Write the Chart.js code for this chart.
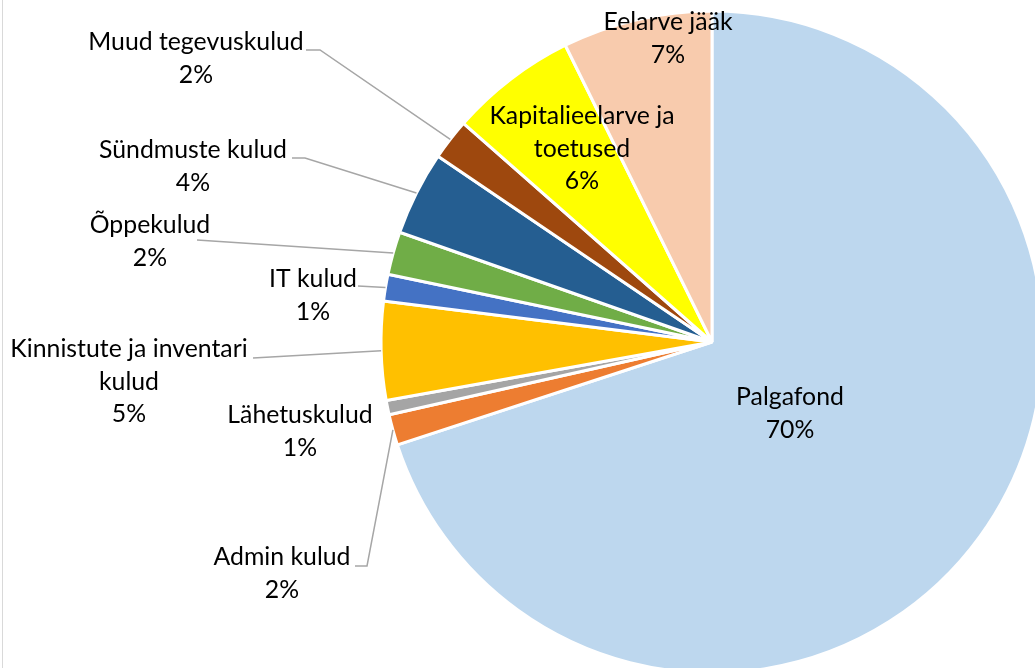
<!DOCTYPE html>
<html><head><meta charset="utf-8">
<script src="https://cdn.jsdelivr.net/npm/chart.js@4.4.1/dist/chart.umd.min.js"></script>
<style>
html,body{margin:0;padding:0;background:#fff;overflow:hidden;width:1035px;height:668px;}
#wrap{position:absolute;left:0;top:0;width:1035px;height:668px;overflow:hidden;background:#fff;}
#c{position:absolute;left:0;top:0;}
#frame{position:absolute;left:2px;top:0;width:1px;height:668px;background:#d9d9d9;}
</style></head><body>
<div id="wrap"><canvas id="c" width="1424" height="684"></canvas><div id="frame"></div></div>
<script>
const categories = ['Palgafond','Admin kulud','Lähetuskulud','Kinnistute ja inventari kulud','IT kulud','Õppekulud','Sündmuste kulud','Muud tegevuskulud','Kapitalieelarve ja toetused','Eelarve jääk'];
const shares = [69.9, 1.5, 0.7, 4.8, 1.3, 2.1, 4.1, 2.0, 6.2, 7.3];
const colors = ['#BDD7EE','#ED7D31','#A5A5A5','#FFC000','#4472C4','#70AD47','#255E91','#9E480E','#FFFF00','#F8CBAD'];

// label layout (separate from data): centre x, first baseline y, words on first line, leader start points
const labelLayout = [
  {x:790, y:405},
  {x:282, y:565, leader:[[355,566],[367,566]]},
  {x:300, y:423},
  {x:129, y:357, firstWords:3, leader:[[253,358]]},
  {x:313, y:287, leader:[[358,286]]},
  {x:150, y:233, leader:[[197,240]]},
  {x:193, y:158, leader:[[292,158],[305,158]]},
  {x:196, y:50, leader:[[306,50],[320,50]]},
  {x:582, y:124, firstWords:2},
  {x:668, y:30}
];
const FONT = '24.8px Lato';
const LINE_H = 32.5;

const labelPlugin = {
  id:'pieLabels',
  afterDatasetsDraw(chart){
    const ctx = chart.ctx;
    const meta = chart.getDatasetMeta(0);
    const total = shares.reduce((a,b)=>a+b,0);
    ctx.save();
    meta.data.forEach((arc,i)=>{
      const L = labelLayout[i];
      const p = arc.getProps(['x','y','startAngle','endAngle','outerRadius'], true);
      if (L.leader){
        const mid = (p.startAngle+p.endAngle)/2;
        const ex = p.x + Math.cos(mid)*p.outerRadius;
        const ey = p.y + Math.sin(mid)*p.outerRadius;
        ctx.strokeStyle = '#A6A6A6';
        ctx.lineWidth = 1.5;
        ctx.beginPath();
        ctx.moveTo(L.leader[0][0], L.leader[0][1]);
        for (let k=1;k<L.leader.length;k++) ctx.lineTo(L.leader[k][0], L.leader[k][1]);
        ctx.lineTo(ex, ey);
        ctx.stroke();
      }
      const words = categories[i].split(' ');
      let lines = [categories[i]];
      if (L.firstWords){
        lines = [words.slice(0,L.firstWords).join(' '), words.slice(L.firstWords).join(' ')];
      }
      lines.push(Math.round(shares[i]/total*100)+'%');
      ctx.fillStyle = '#000';
      ctx.font = FONT;
      ctx.textAlign = 'center';
      ctx.textBaseline = 'alphabetic';
      lines.forEach((t,k)=>ctx.fillText(t, L.x, L.y + k*LINE_H));
    });
    ctx.restore();
  }
};

new Chart(document.getElementById('c'), {
  type:'pie',
  data:{
    labels: categories,
    datasets:[{
      data: shares,
      backgroundColor: colors,
      borderColor:'#ffffff',
      borderWidth:3,
      radius:331
    }]
  },
  options:{
    responsive:false,
    animation:false,
    radius:331,
    layout:{padding:0},
    plugins:{legend:{display:false}, tooltip:{enabled:false}}
  },
  plugins:[labelPlugin]
});
</script>
</body></html>
